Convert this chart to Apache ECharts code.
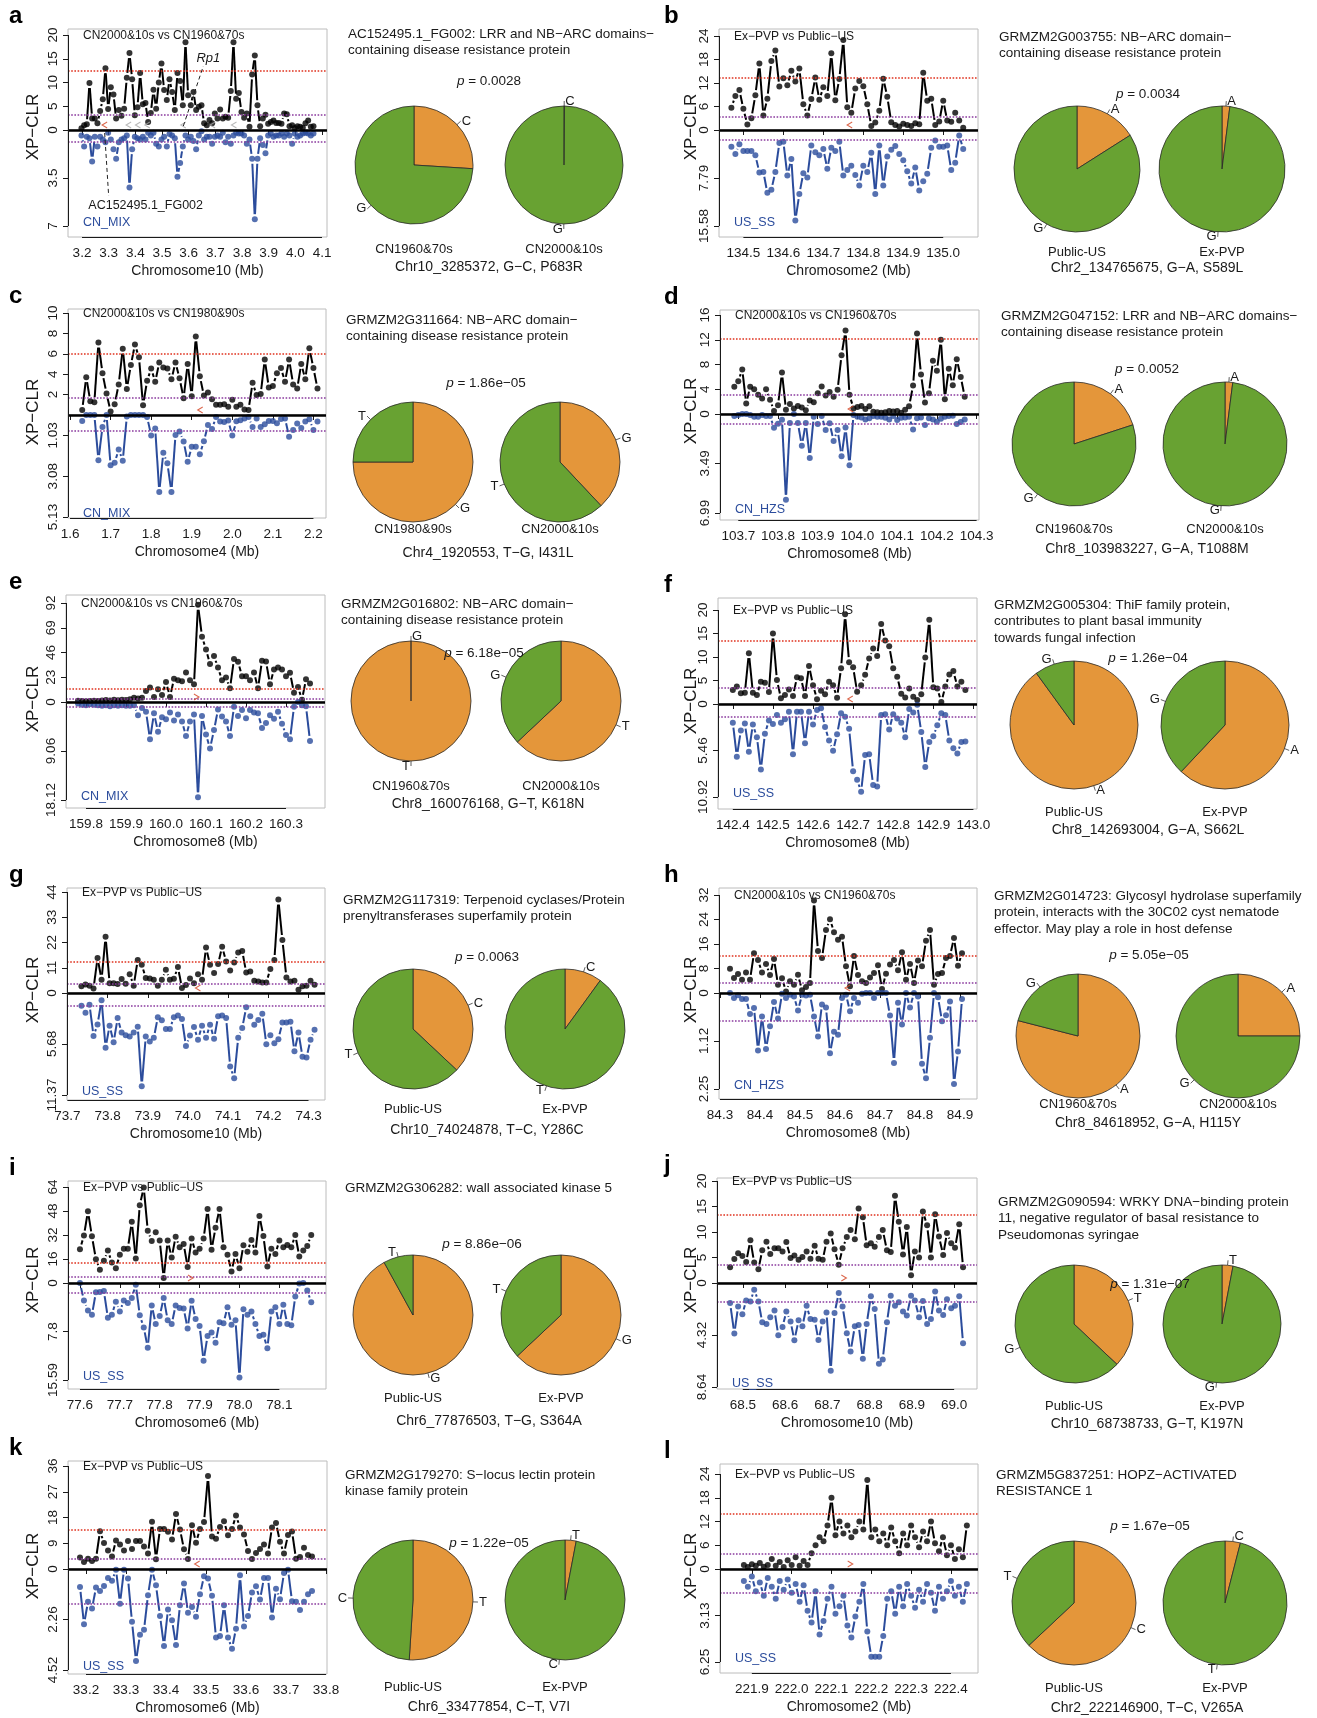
<!DOCTYPE html>
<html>
<head>
<meta charset="utf-8">
<title>XP-CLR selection signals</title>
<script src="https://cdn.jsdelivr.net/npm/echarts@6.0.0/dist/echarts.min.js"></script>
<style>
html,body{margin:0;padding:0;background:#fff;}
#chart{width:1317px;height:1718px;}
</style>
</head>
<body>
<div id="chart"></div>
<script>
// ================= DATA =================
const aX=[3.198,3.208,3.218,3.228,3.238,3.248,3.258,3.268,3.278,3.288,3.298,3.308,3.318,3.328,3.338,3.348,3.358,3.368,3.378,3.388,3.398,3.408,3.418,3.428,3.438,3.448,3.458,3.468,3.478,3.488,3.498,3.508,3.518,3.528,3.538,3.548,3.558,3.568,3.578,3.588,3.598,3.608,3.618,3.628,3.638,3.648,3.658,3.668,3.678,3.688,3.698,3.708,3.718,3.728,3.738,3.748,3.758,3.768,3.778,3.788,3.798,3.808,3.818,3.828,3.838,3.848,3.858,3.868,3.878,3.888,3.898,3.908,3.918,3.928,3.938,3.948,3.958,3.968,3.978,3.988,3.998,4.008,4.018,4.028,4.038,4.048,4.058,4.068];
const aUp=[0.35,1.0,1.2,9.9,2.4,2.4,1.4,4.0,6.5,13.0,4.4,9.0,7.5,2.4,4.2,3.0,4.5,11.0,16.2,10.7,3.1,4.8,12.0,5.4,5.7,1.7,3.6,8.5,4.5,10.0,14.0,8.4,6.3,10.7,8.0,4.2,12.0,10.3,5.2,18.5,7.3,5.2,8.0,4.2,4.9,5.2,1.4,1.0,2.1,1.4,3.5,2.4,4.3,2.4,2.8,2.6,8.2,18.5,6.6,7.8,3.8,2.6,3.5,0.7,11.7,15.7,5.2,0.8,2.4,3.2,1.3,1.7,2.0,1.5,1.5,1.3,3.5,3.3,0.8,1.0,0.4,0.8,0.7,0.5,1.4,2.0,0.7,0.8];
const aDown=[0.4,1.2,0.5,0.6,2.3,0.5,1.2,0.5,0.7,0.9,0.2,0.7,1.4,2.1,0.9,0.7,0.6,0.4,4.2,1.4,0.5,0.6,0.7,0.5,0.7,0.2,0.4,0.2,1.0,1.2,0.7,0.5,1.2,0.3,0.4,0.6,3.4,2.4,1.2,0.4,0.7,0.5,0.8,1.4,0.4,0.1,0.7,0.5,0.5,1.0,0.5,0.4,0.5,0.2,0.9,0.5,1.0,0.4,0.2,0.25,0.25,0.4,1.0,0.7,2.1,6.5,2.1,0.6,1.1,1.7,0.4,0.25,0.5,0.4,0.4,0.25,0.5,0.25,0.4,1.0,0.25,0.5,0.4,0.25,0.2,0.25,0.4,0.25];

const bX=[134.47,134.48,134.49,134.50,134.51,134.52,134.53,134.54,134.55,134.56,134.57,134.58,134.59,134.60,134.61,134.62,134.63,134.64,134.65,134.66,134.67,134.68,134.69,134.70,134.71,134.72,134.73,134.74,134.75,134.76,134.77,134.78,134.79,134.80,134.81,134.82,134.83,134.84,134.85,134.86,134.87,134.88,134.89,134.90,134.91,134.92,134.93,134.94,134.95,134.96,134.97,134.98,134.99,135.00,135.01,135.02,135.03,135.04,135.05];
const bUp=[5.7,8.7,10.2,5.4,1.4,3.0,8.9,17.0,3.7,8.0,17.6,20.3,11.1,13.2,11.4,15.1,12.4,15.7,6.6,3.7,7.9,13.4,7.7,10.9,8.7,19.6,7.6,13.0,23.0,5.8,4.4,10.6,12.5,11.2,6.6,1.0,1.9,4.9,13.1,8.5,2.0,1.3,0.9,1.6,1.3,1.0,1.7,1.5,14.6,7.5,8.0,1.3,2.2,7.5,2.4,2.1,4.4,2.4,0.6];
const bDown=[2.7,3.9,2.3,3.4,3.4,3.4,4.1,6.9,6.8,10.2,9.7,6.8,2.1,1.9,7.4,4.7,14.7,10.4,7.0,7.7,2.5,3.6,4.1,3.1,6.3,2.9,3.4,1.9,7.4,6.5,5.8,7.3,9.0,5.8,6.8,3.7,10.4,2.5,9.0,4.3,3.2,2.6,3.9,4.9,6.7,8.7,6.1,9.8,8.3,7.1,2.9,1.7,2.7,2.7,2.5,6.5,5.3,0.9,3.1];

const cX=[1.63,1.64,1.65,1.66,1.67,1.68,1.69,1.70,1.71,1.72,1.73,1.74,1.75,1.76,1.77,1.78,1.79,1.80,1.81,1.82,1.83,1.84,1.85,1.86,1.87,1.88,1.89,1.90,1.91,1.92,1.93,1.94,1.95,1.96,1.97,1.98,1.99,2.00,2.01,2.02,2.03,2.04,2.05,2.06,2.07,2.08,2.09,2.10,2.11,2.12,2.13,2.14,2.15,2.16,2.17,2.18,2.19,2.20,2.21];
const cUp=[0.5,3.7,1.35,1.25,7.1,4.1,2.1,0.35,1.05,3.0,6.5,2.55,4.9,6.9,5.65,0.95,3.35,4.55,3.25,5.15,4.65,4.55,3.5,5.15,3.6,1.65,5.0,1.85,7.7,3.8,1.9,2.2,1.55,1.0,1.0,1.05,0.8,1.5,0.8,1.0,0.55,0.5,3.15,1.95,2.05,5.45,2.7,2.85,4.1,4.6,3.25,5.45,3.0,2.6,5.0,3.5,6.55,4.6,2.6];
const cDown=[0.3,0,0,0,2.27,0.6,0,2.53,2.4,1.73,2.3,0.08,0,0,0,0,0.1,1.03,0.68,3.87,1.9,2.43,3.87,1.0,0.83,1.33,2.35,1.6,1.6,1.97,1.32,0.5,0.7,0.1,0.33,0.35,0.28,1.03,0.32,0.27,0.18,0.1,0.6,0.18,0.6,0.47,0.3,0.3,0.42,0.2,0.17,1.1,0.75,0.43,0.65,0.33,0.22,0.75,0.33];

const dX=[103.69,103.70,103.71,103.72,103.73,103.74,103.75,103.76,103.77,103.78,103.79,103.80,103.81,103.82,103.83,103.84,103.85,103.86,103.87,103.88,103.89,103.90,103.91,103.92,103.93,103.94,103.95,103.96,103.97,103.98,103.99,104.00,104.01,104.02,104.03,104.04,104.05,104.06,104.07,104.08,104.09,104.10,104.11,104.12,104.13,104.14,104.15,104.16,104.17,104.18,104.19,104.20,104.21,104.22,104.23,104.24,104.25,104.26,104.27];
const dUp=[4.4,5.3,7.2,1.7,4.4,4.0,3.1,2.5,4.0,2.3,0.5,1.4,6.7,0.7,1.6,0.9,1.3,1.05,0.6,2.2,1.9,3.35,4.45,3.0,3.55,2.8,3.9,9.5,13.5,3.1,0.9,1.15,1.3,0.8,1.25,0.35,0.3,0.2,0.3,0.5,0.4,0.5,0.2,0.7,1.25,4.6,13.0,6.4,1.85,3.35,8.6,7.0,12.0,2.4,7.3,4.65,8.85,6.0,2.8];
const dDown=[0.14,0.07,0,0,0.07,0.19,0.19,0.07,0.14,0.14,0.97,0.69,0.4,6.05,0.64,0,0.64,2.25,0.64,3.1,0.19,0.71,0.14,1.13,0.66,1.9,1.13,2.98,0.95,3.62,0.07,0.19,0.24,0.38,0.3,0.14,0.19,0.19,0.26,0.38,0.14,0.43,0.26,0.24,0.19,1.09,0.3,0.24,0.78,0.3,0.38,0.54,0.33,0.19,0.14,0.12,0.71,0.57,0.38];

const eX=[159.78,159.79,159.80,159.81,159.82,159.83,159.84,159.85,159.86,159.87,159.88,159.89,159.90,159.91,159.92,159.93,159.94,159.95,159.96,159.97,159.98,159.99,160.00,160.01,160.02,160.03,160.04,160.05,160.06,160.07,160.08,160.09,160.10,160.11,160.12,160.13,160.14,160.15,160.16,160.17,160.18,160.19,160.20,160.21,160.22,160.23,160.24,160.25,160.26,160.27,160.28,160.29,160.30,160.31,160.32,160.33,160.34,160.35,160.36];
const eUp=[1.2,1.0,0.8,1.0,1.2,0.9,1.5,1.8,1.4,2.0,1.6,2.2,1.9,2.5,4.0,3.2,4.0,10.3,13.4,4.7,11.8,6.5,18.7,4.7,21.5,20.2,19.3,27.4,20.2,16.5,90.3,60.7,48.9,35.2,42.7,32.1,20.2,22.7,12.8,39.9,37.4,24.0,24.0,20.2,27.4,12.8,38.3,37.7,16.5,30.2,32.1,30.2,24.0,27.1,8.7,14.0,2.2,21.2,17.1];
const eDown=[0.3,0.5,0.6,0.4,0.5,0.6,0.7,0.6,0.8,0.6,0.7,0.6,0.7,0.7,0.6,2.45,1.1,1.8,6.9,2.1,5.5,2.8,3.2,1.96,3.4,2.3,3.6,6.3,3.6,2.3,17.6,2.6,6.0,8.6,5.2,1.4,2.7,3.6,6.3,0.9,2.6,1.5,3.0,1.5,1.96,2.1,4.8,3.9,2.45,3.1,1.8,4.0,6.1,6.9,0.9,0,0.6,0.8,7.2];

const fX=[142.40,142.41,142.42,142.43,142.44,142.45,142.46,142.47,142.48,142.49,142.50,142.51,142.52,142.53,142.54,142.55,142.56,142.57,142.58,142.59,142.60,142.61,142.62,142.63,142.64,142.65,142.66,142.67,142.68,142.69,142.70,142.71,142.72,142.73,142.74,142.75,142.76,142.77,142.78,142.79,142.80,142.81,142.82,142.83,142.84,142.85,142.86,142.87,142.88,142.89,142.90,142.91,142.92,142.93,142.94,142.95,142.96,142.97,142.98];
const fUp=[3.0,3.7,2.3,2.4,10.8,2.4,1.9,4.75,4.5,2.55,15.0,5.1,1.2,1.9,3.1,1.7,5.7,5.5,1.7,8.1,4.0,1.0,2.8,2.05,4.75,4.0,1.35,7.6,19.1,8.9,7.8,2.6,4.0,6.2,9.7,11.8,10.2,17.0,13.5,12.3,7.6,5.8,2.2,1.4,3.3,1.55,0.85,2.05,9.9,17.9,3.55,3.3,0.4,3.7,6.3,7.0,3.7,4.75,3.0];
const fDown=[2.2,6.2,3.1,2.3,5.6,2.4,3.9,7.7,3.5,1.95,2.35,1.3,2.2,1.8,0.9,5.9,0.9,0.9,4.6,0.9,2.4,0.7,0.5,2.7,4.3,5.5,3.55,1.1,1.5,2.9,7.9,8.9,10.3,6.0,5.9,9.5,9.7,1.3,1.2,3.0,1.2,1.7,2.2,3.9,0.6,1.0,0.1,3.3,7.4,4.45,3.8,2.5,1.1,1.3,4.3,5.2,5.8,4.45,4.4];

const gX=[73.735,73.745,73.755,73.765,73.775,73.785,73.795,73.805,73.815,73.825,73.835,73.845,73.855,73.865,73.875,73.885,73.895,73.905,73.915,73.925,73.935,73.945,73.955,73.965,73.975,73.985,73.995,74.005,74.015,74.025,74.035,74.045,74.055,74.065,74.075,74.085,74.095,74.105,74.115,74.125,74.135,74.145,74.155,74.165,74.175,74.185,74.195,74.205,74.215,74.225,74.235,74.245,74.255,74.265,74.275,74.285,74.295,74.305,74.315];
const gUp=[2.9,3.75,3.2,2.0,15.2,5.8,24.5,4.3,4.3,3.9,6.1,4.0,8.2,3.2,14.4,12.3,6.5,6.3,5.8,3.2,5.8,10.1,5.8,6.2,11.3,2.2,3.5,6.3,4.3,8.2,5.8,19.8,12.3,8.7,12.6,20.2,13.7,9.8,13.3,17.6,18.3,8.9,9.4,5.3,5.05,4.6,4.6,10.5,14.4,40.7,23.1,6.8,5.0,5.3,1.4,2.9,3.2,5.3,3.6];
const gDown=[1.42,2.2,1.3,4.8,3.5,0.8,6.1,3.65,5.5,2.8,4.4,4.7,4.85,4.4,3.75,10.4,4.85,5.4,5.0,2.7,3.05,4.0,4.0,2.7,2.5,2.9,5.9,4.75,3.8,5.2,3.65,5.0,3.55,5.1,2.6,2.5,2.8,8.2,9.5,5.0,3.9,1.6,2.6,3.55,3.0,2.3,5.7,4.7,5.6,5.15,3.3,3.3,3.2,6.5,4.4,7.1,7.2,5.2,4.1];

const hX=[84.325,84.335,84.345,84.355,84.365,84.375,84.385,84.395,84.405,84.415,84.425,84.435,84.445,84.455,84.465,84.475,84.485,84.495,84.505,84.515,84.525,84.535,84.545,84.555,84.565,84.575,84.585,84.595,84.605,84.615,84.625,84.635,84.645,84.655,84.665,84.675,84.685,84.695,84.705,84.715,84.725,84.735,84.745,84.755,84.765,84.775,84.785,84.795,84.805,84.815,84.825,84.835,84.845,84.855,84.865,84.875,84.885,84.895,84.905];
const hUp=[7.9,4.9,6.2,4.3,6.7,4.3,13.0,10.8,6.7,9.5,5.9,11.1,2.7,4.8,0.5,3.8,2.7,6.0,0.9,2.0,3.25,30.2,13.7,11.4,20.6,24.1,19.8,17.4,18.4,8.7,2.2,12.1,5.9,3.8,3.25,5.1,6.5,9.1,1.3,6.3,9.3,10.8,7.4,13.3,4.3,9.5,3.25,10.6,8.7,17.1,20.6,2.7,6.2,6.5,11.4,12.1,18.0,8.9,13.0];
const hDown=[0.0,0.12,0.05,0.14,0.14,0.49,0.35,1.35,0.55,1.31,0.78,0.21,0.6,0.02,0.12,0.04,0.08,0.41,0.04,0.06,0.04,0.55,1.02,0.27,0.34,1.41,0.91,0.98,0.12,0.04,0.43,0.12,0.23,0.02,0.0,0.0,0.12,0.0,0.0,0.0,0.53,1.64,0.23,0.74,0.0,0.34,0.0,0.08,1.66,2.0,1.05,0.0,0.1,0.66,0.52,0.2,2.13,1.37,0.14];

const iX=[77.60,77.61,77.62,77.63,77.64,77.65,77.66,77.67,77.68,77.69,77.70,77.71,77.72,77.73,77.74,77.75,77.76,77.77,77.78,77.79,77.80,77.81,77.82,77.83,77.84,77.85,77.86,77.87,77.88,77.89,77.90,77.91,77.92,77.93,77.94,77.95,77.96,77.97,77.98,77.99,78.00,78.01,78.02,78.03,78.04,78.05,78.06,78.07,78.08,78.09,78.10,78.11,78.12,78.13,78.14,78.15,78.16,78.17,78.18];
const iUp=[22.5,31.6,47.9,31.1,15.9,8.8,14.8,21.6,13.7,9.9,18.8,22.9,22.9,40.8,16.3,51.9,63.6,34.9,28.0,33.8,28.3,3.3,28.3,17.0,30.9,23.8,26.0,10.6,29.6,20.3,22.9,29.6,49.4,22.1,36.9,49.4,23.8,18.8,7.7,19.4,9.9,25.2,20.8,28.7,20.3,44.6,31.3,11.0,22.9,19.4,28.3,23.8,25.4,23.8,32.0,17.7,21.6,24.7,32.0];
const iDown=[0,2.8,4.4,5.1,1.5,1.45,1.3,5.6,5.1,3.0,4.6,2.8,3.2,2.4,0.27,5.2,7.15,10.4,3.6,6.6,5.3,2.4,6.0,6.6,3.6,4.0,4.1,7.3,2.85,5.8,6.9,12.5,8.5,7.95,9.6,6.3,6.45,3.9,6.7,6.0,15.2,4.2,5.1,4.6,6.6,8.5,8.3,10.5,4.6,3.9,6.6,3.5,6.6,6.8,2.15,0.1,0,1.2,3.1];

const jX=[68.470,68.480,68.489,68.499,68.508,68.518,68.527,68.537,68.546,68.556,68.565,68.575,68.584,68.594,68.603,68.613,68.622,68.632,68.641,68.651,68.660,68.670,68.679,68.689,68.698,68.708,68.717,68.727,68.736,68.746,68.755,68.765,68.774,68.784,68.793,68.803,68.812,68.822,68.831,68.841,68.850,68.860,68.869,68.879,68.888,68.898,68.907,68.917,68.926,68.936,68.945,68.955,68.964,68.974,68.983,68.993,69.002,69.012,69.021];
const jUp=[3.1,4.7,5.85,5.3,4.1,8.4,4.0,2.7,6.4,8.1,5.7,6.8,6.8,6.2,8.05,4.9,5.4,4.55,5.1,6.2,4.75,7.3,4.75,4.55,8.1,9.7,6.6,3.6,6.8,9.0,10.4,8.6,14.6,12.9,7.4,7.8,7.1,9.0,10.4,6.4,6.1,17.1,12.0,5.6,11.0,1.5,6.2,5.0,14.0,11.3,5.0,13.5,9.1,5.5,9.8,7.8,6.9,11.5,3.1];
const jDown=[1.67,4.2,1.95,2.6,1.45,1.53,0.56,1.53,3.26,3.4,2.84,2.28,4.35,3.65,2.36,3.2,4.76,3.1,3.6,1.9,3.0,3.06,4.74,3.2,2.45,7.3,2.5,0.84,1.95,4.18,5.7,3.6,3.48,6.3,3.4,1.1,2.17,6.7,6.35,3.26,1.06,1.9,1.6,2.36,2.7,1.06,1.45,2.84,1.5,3.4,3.0,0.7,2.28,2.65,1.34,2.1,1.9,1.1,5.0];

const kX=[33.185,33.195,33.205,33.215,33.225,33.235,33.245,33.255,33.265,33.275,33.285,33.295,33.305,33.315,33.325,33.335,33.345,33.355,33.365,33.375,33.385,33.395,33.405,33.415,33.425,33.435,33.445,33.455,33.465,33.475,33.485,33.495,33.505,33.515,33.525,33.535,33.545,33.555,33.565,33.575,33.585,33.595,33.605,33.615,33.625,33.635,33.645,33.655,33.665,33.675,33.685,33.695,33.705,33.715,33.725,33.735,33.745,33.755,33.765];
const kUp=[4.0,2.45,3.6,2.8,3.6,13.2,9.1,6.5,4.4,10.0,8.6,6.5,9.8,7.0,9.8,9.8,7.9,5.4,16.5,3.4,14.0,14.0,13.0,10.3,19.2,13.8,6.9,3.5,15.3,9.2,14.0,16.4,32.5,11.4,10.6,14.7,16.7,11.8,14.0,18.7,14.5,12.1,6.3,3.5,5.6,7.0,8.6,5.4,14.5,16.1,9.5,5.4,11.9,13.1,3.6,4.2,7.4,4.9,4.4];
const kDown=[0.8,2.47,1.47,1.77,0.83,0.98,0.76,0.4,0.53,0.03,1.55,0.03,0.43,2.36,4.12,2.94,2.72,1.17,0.03,0.73,2.1,3.45,1.81,2.29,3.4,1.62,0.65,1.96,1.7,2.14,1.13,0.33,0.43,1.2,3.06,3.0,1.62,3.06,3.57,2.67,0.28,2.57,2.1,1.05,0.77,1.37,0.4,0.4,2.17,0.88,1.35,0.18,0.03,1.44,1.47,1.84,1.47,1.13,0.98];

const lX=[221.88,221.89,221.90,221.91,221.92,221.93,221.94,221.95,221.96,221.97,221.98,221.99,222.00,222.01,222.02,222.03,222.04,222.05,222.06,222.07,222.08,222.09,222.10,222.11,222.12,222.13,222.14,222.15,222.16,222.17,222.18,222.19,222.20,222.21,222.22,222.23,222.24,222.25,222.26,222.27,222.28,222.29,222.30,222.31,222.32,222.33,222.34,222.35,222.36,222.37,222.38,222.39,222.40,222.41,222.42,222.43,222.44];
const lUp=[1.0,0.5,1.2,0.8,1.5,0.6,1.0,2.5,0.8,1.8,0.5,2.2,1.0,3.0,0.8,2.0,1.0,4.0,6.0,8.0,7.0,11.0,18.0,8.5,12.0,9.0,11.0,8.0,9.5,12.0,10.0,22.5,8.0,10.0,7.0,9.0,6.0,10.5,7.0,4.0,9.0,6.0,11.0,8.0,5.5,9.5,7.0,12.0,6.5,4.5,8.0,3.5,6.0,2.5,5.0,3.0,11.0];
const lDown=[0.8,1.2,0.5,1.5,0.9,1.8,0.6,1.2,2.0,0.8,1.4,0.7,1.6,1.0,2.2,1.1,2.8,3.6,1.5,4.4,3.5,2.0,1.2,3.0,2.5,1.8,3.8,4.6,3.2,2.2,1.0,4.2,5.9,5.9,5.9,4.5,2.0,1.5,3.0,1.2,2.5,1.0,1.8,2.6,1.4,2.2,1.0,1.6,2.8,1.2,2.0,1.5,0.8,1.8,1.2,2.2,1.0];

// axis tick labels
const xTicks=[[3.2,3.3,3.4,3.5,3.6,3.7,3.8,3.9,4.0,4.1],[134.5,134.6,134.7,134.8,134.9,135.0],[1.6,1.7,1.8,1.9,2.0,2.1,2.2],[103.7,103.8,103.9,104.0,104.1,104.2,104.3],[159.8,159.9,160.0,160.1,160.2,160.3],[142.4,142.5,142.6,142.7,142.8,142.9,143.0],[73.7,73.8,73.9,74.0,74.1,74.2,74.3],[84.3,84.4,84.5,84.6,84.7,84.8,84.9],[77.6,77.7,77.8,77.9,78.0,78.1],[68.5,68.6,68.7,68.8,68.9,69.0],[33.2,33.3,33.4,33.5,33.6,33.7,33.8],[221.9,222.0,222.1,222.2,222.3,222.4]];
const upTicks=[[0,5,10,15,20],[0,6,12,18,24],[2,4,6,8,10],[0,4,8,12,16],[0,23,46,69,92],[0,5,10,15,20],[0,11,22,33,44],[0,8,16,24,32],[0,16,32,48,64],[0,5,10,15,20],[0,9,18,27,36],[0,6,12,18,24]];
const downTicks=[[3.5,7],[7.79,15.58],[1.03,3.08,5.13],[3.49,6.99],[9.06,18.12],[5.46,10.92],[5.68,11.37],[1.12,2.25],[7.8,15.59],[4.32,8.64],[2.26,4.52],[3.13,6.25]];
const thresholds=[[12.4,3.2,0.83],[13.4,3.4,1.6],[6.05,1.7,0.8],[12.1,3.1,0.69],[12.5,3.1,0.92],[13.4,3.55,1.48],[13.7,3.9,1.42],[12.1,3.25,0.65],[13.7,4.0,1.5],[13.4,3.6,1.53],[13.6,3.6,1.55],[13.9,3.9,1.6]];
const snpPos=[3.285,134.766,1.921,103.983,160.076,142.693,74.025,84.619,77.877,68.739,33.478,222.147];
const snpDir=['<','<','<','<','>','<','<','<','>','>','<','>'];
const otherGenesA=[3.375,3.41,3.445,3.58,3.69,3.77];

// labels
const panelIds=['a','b','c','d','e','f','g','h','i','j','k','l'];
const compTitles=['CN2000&10s vs CN1960&70s','Ex\u2212PVP vs Public\u2212US','CN2000&10s vs CN1980&90s','CN2000&10s vs CN1960&70s','CN2000&10s vs CN1960&70s','Ex\u2212PVP vs Public\u2212US','Ex\u2212PVP vs Public\u2212US','CN2000&10s vs CN1960&70s','Ex\u2212PVP vs Public\u2212US','Ex\u2212PVP vs Public\u2212US','Ex\u2212PVP vs Public\u2212US','Ex\u2212PVP vs Public\u2212US'];
const popNames=['CN_MIX','US_SS','CN_MIX','CN_HZS','CN_MIX','US_SS','US_SS','CN_HZS','US_SS','US_SS','US_SS','US_SS'];
const chrNames=['Chromosome10 (Mb)','Chromosome2 (Mb)','Chromosome4 (Mb)','Chromosome8 (Mb)','Chromosome8 (Mb)','Chromosome8 (Mb)','Chromosome10 (Mb)','Chromosome8 (Mb)','Chromosome6 (Mb)','Chromosome10 (Mb)','Chromosome6 (Mb)','Chromosome2 (Mb)'];
const descs=[
 ['AC152495.1_FG002: LRR and NB\u2212ARC domains\u2212','containing disease resistance protein'],
 ['GRMZM2G003755: NB\u2212ARC domain\u2212','containing disease resistance protein'],
 ['GRMZM2G311664: NB\u2212ARC domain\u2212','containing disease resistance protein'],
 ['GRMZM2G047152: LRR and NB\u2212ARC domains\u2212','containing disease resistance protein'],
 ['GRMZM2G016802: NB\u2212ARC domain\u2212','containing disease resistance protein'],
 ['GRMZM2G005304: ThiF family protein,','contributes to plant basal immunity','towards fungal infection'],
 ['GRMZM2G117319: Terpenoid cyclases/Protein','prenyltransferases superfamily protein'],
 ['GRMZM2G014723: Glycosyl hydrolase superfamily','protein, interacts with the 30C02 cyst nematode','effector. May play a role in host defense'],
 ['GRMZM2G306282: wall associated kinase 5'],
 ['GRMZM2G090594: WRKY DNA\u2212binding protein','11, negative regulator of basal resistance to','Pseudomonas syringae'],
 ['GRMZM2G179270: S\u2212locus lectin protein','kinase family protein'],
 ['GRMZM5G837251: HOPZ\u2212ACTIVATED','RESISTANCE 1']];
const pValues=['0.0028','0.0034','1.86e\u221205','0.0052','6.18e\u221205','1.26e\u221204','0.0063','5.05e\u221205','8.86e\u221206','1.31e\u221207','1.22e\u221205','1.67e\u221205'];
const snpCaptions=['Chr10_3285372, G\u2212C, P683R','Chr2_134765675, G\u2212A, S589L','Chr4_1920553, T\u2212G, I431L','Chr8_103983227, G\u2212A, T1088M','Chr8_160076168, G\u2212T, K618N','Chr8_142693004, G\u2212A, S662L','Chr10_74024878, T\u2212C, Y286C','Chr8_84618952, G\u2212A, H115Y','Chr6_77876503, T\u2212G, S364A','Chr10_68738733, G\u2212T, K197N','Chr6_33477854, C\u2212T, V7I','Chr2_222146900, T\u2212C, V265A'];
const groupNames=[['CN1960&70s','CN2000&10s'],['Public-US','Ex-PVP'],['CN1980&90s','CN2000&10s'],['CN1960&70s','CN2000&10s'],['CN1960&70s','CN2000&10s'],['Public-US','Ex-PVP'],['Public-US','Ex-PVP'],['CN1960&70s','CN2000&10s'],['Public-US','Ex-PVP'],['Public-US','Ex-PVP'],['Public-US','Ex-PVP'],['Public-US','Ex-PVP']];
// alleles: [orange allele, green allele]; pie shares (%): [[left orange, left green],[right orange, right green]]
const alleles=[['C','G'],['A','G'],['G','T'],['A','G'],['T','G'],['A','G'],['C','T'],['A','G'],['G','T'],['T','G'],['T','C'],['C','T']];
const pieShares=[[[26,74],[0.1,99.9]],[[16,84],[2,98]],[[75,25],[38,62]],[[20,80],[2,98]],[[100,0],[63,37]],[[90,10],[62,38]],[[37,63],[10,90]],[[79,21],[25,75]],[[92,8],[63,37]],[[37,63],[3,97]],[[51,49],[3,97]],[[63,37],[4,96]]];

const panelData=[[aX,aUp,aDown],[bX,bUp,bDown],[cX,cUp,cDown],[dX,dUp,dDown],[eX,eUp,eDown],[fX,fUp,fDown],[gX,gUp,gDown],[hX,hUp,hDown],[iX,iUp,iDown],[jX,jUp,jDown],[kX,kUp,kDown],[lX,lUp,lDown]];

// ================= LAYOUT (pixels) =================
const lay=[
 {left:68,right:327,top:29,zero:130,bottom:237,du:95,dl:96,xmin:3.1475,xmax:4.1187},
 {left:719,right:978,top:29,zero:130,bottom:237,du:94,dl:96,xmin:134.439,xmax:135.087},
 {left:68,right:326,top:309,zero:415,bottom:518,du:102,dl:102,xmin:1.595,xmax:2.231},
 {left:720,right:979,top:310,zero:414,bottom:520,du:99,dl:99,xmin:103.654,xmax:104.306},
 {left:66,right:325,top:595,zero:702,bottom:808,du:99,dl:98,xmin:159.75,xmax:160.3975},
 {left:718,right:977,top:598,zero:704,bottom:809,du:94,dl:93,xmin:142.363,xmax:143.009},
 {left:67,right:325,top:888,zero:993,bottom:1100,du:101,dl:102,xmin:73.699,xmax:74.341},
 {left:719,right:977,top:888,zero:993,bottom:1099,du:98,dl:96,xmin:84.2975,xmax:84.9425},
 {left:68,right:326,top:1181,zero:1283,bottom:1389,du:96,dl:97,xmin:77.570,xmax:78.217},
 {left:717,right:977,top:1178,zero:1283,bottom:1389,du:102,dl:104,xmin:68.439,xmax:69.054},
 {left:68,right:327,top:1461,zero:1569,bottom:1674,du:103,dl:101,xmin:33.155,xmax:33.8025},
 {left:720,right:978,top:1464,zero:1569,bottom:1673,du:95,dl:93,xmin:221.82,xmax:222.468}
];
const txt=[
 {dx:348,dy:34,px:489,py:81,pie:[414,564,165,59],ny:249,cx:489,cy:267},
 {dx:999,dy:37,px:1148,py:94,pie:[1077,1222,169,63],ny:252,cx:1147,cy:268},
 {dx:346,dy:320,px:486,py:383,pie:[413,560,462,60],ny:529,cx:488,cy:553},
 {dx:1001,dy:316,px:1147,py:369,pie:[1074,1225,444,62],ny:529,cx:1147,cy:549},
 {dx:341,dy:604,px:484,py:653,pie:[411,561,701,60],ny:786,cx:488,cy:804},
 {dx:994,dy:605,px:1148,py:658,pie:[1074,1225,725,64],ny:812,cx:1148,cy:830},
 {dx:343,dy:900,px:487,py:957,pie:[413,565,1029,60],ny:1109,cx:487,cy:1130},
 {dx:994,dy:896,px:1149,py:955,pie:[1078,1238,1036,62],ny:1104,cx:1148,cy:1123},
 {dx:345,dy:1188,px:482,py:1244,pie:[413,561,1315,60],ny:1398,cx:489,cy:1421},
 {dx:998,dy:1202,px:1150,py:1284,pie:[1074,1222,1324,59],ny:1406,cx:1147,cy:1424},
 {dx:345,dy:1475,px:489,py:1543,pie:[413,565,1600,60],ny:1687,cx:489,cy:1707},
 {dx:996,dy:1475,px:1150,py:1526,pie:[1074,1225,1603,62],ny:1688,cx:1147,cy:1708}
];

// ================= BUILD =================
const FONT='"Liberation Sans", Arial, Helvetica, sans-serif';
const INK='#1a1a1a', BLUE='#2b4c9c', RED='#e0321e', PURPLE='#8a3a9e';
const ORANGE='#e4963a', GREEN='#68a232';
const GAP=5;

const chart=echarts.init(document.getElementById('chart'),null,{renderer:'canvas',width:1317,height:1718});
const grids=[],xAxes=[],yAxes=[],series=[],graphics=[];

function segSeries(xs,ys,gi,color){
  const data=[];
  for(let k=0;k<xs.length-1;k++) data.push([xs[k],ys[k],xs[k+1],ys[k+1]]);
  return {type:'custom',xAxisIndex:gi,yAxisIndex:gi,data,silent:true,z:2,animation:false,
    dimensions:['x0','y0','x1','y1'],encode:{x:[0,2],y:[1,3]},
    renderItem(params,api){
      const p0=api.coord([api.value(0),api.value(1)]);
      const p1=api.coord([api.value(2),api.value(3)]);
      const dx=p1[0]-p0[0],dy=p1[1]-p0[1],len=Math.hypot(dx,dy);
      if(len<=2*GAP+0.5) return null;
      const ux=dx/len,uy=dy/len;
      return {type:'line',shape:{x1:p0[0]+ux*GAP,y1:p0[1]+uy*GAP,x2:p1[0]-ux*GAP,y2:p1[1]-uy*GAP},
        style:{stroke:color,lineWidth:2}};
    }};
}
function txtEl(x,y,text,o){
  o=o||{};
  return {type:'text',x,y,silent:true,z:20,rotation:o.rot||0,
    style:{text,fill:o.color||INK,fontSize:o.size||13,fontFamily:FONT,fontWeight:o.weight||'normal',
      fontStyle:o.style||'normal',align:o.align||'left',verticalAlign:'middle',rich:o.rich}};
}

panelData.forEach((pd,p)=>{
  const [xs,ups,downs]=pd;
  const G=lay[p], T=txt[p];
  const w=G.right-G.left;
  const gu=2*p, gl=2*p+1;
  const U=upTicks[p][upTicks[p].length-1], L=downTicks[p][downTicks[p].length-1];
  grids.push({left:G.left,top:G.top,width:w,height:G.zero-G.top,show:true,borderColor:'#bcbcbc',borderWidth:1});
  grids.push({left:G.left,top:G.zero,width:w,height:G.bottom-G.zero,show:true,borderColor:'#bcbcbc',borderWidth:1});
  xAxes.push({type:'value',gridIndex:gu,min:G.xmin,max:G.xmax,show:false});
  xAxes.push({type:'value',gridIndex:gl,min:G.xmin,max:G.xmax,position:'bottom',
    axisLine:{show:false},splitLine:{show:false},
    axisTick:{show:true,customValues:xTicks[p],length:5,lineStyle:{color:INK,width:1}},
    axisLabel:{customValues:xTicks[p],formatter:v=>Number(v).toFixed(1),fontSize:13.5,color:INK,fontFamily:FONT,margin:9},
    name:chrNames[p],nameLocation:'middle',nameGap:27,nameTextStyle:{fontSize:14,color:INK,fontFamily:FONT}});
  yAxes.push({type:'value',gridIndex:gu,min:0,max:U*(G.zero-G.top)/G.du,
    axisLine:{show:false},splitLine:{show:false},
    axisTick:{show:true,customValues:upTicks[p],length:5,lineStyle:{color:INK,width:1}},
    axisLabel:{customValues:upTicks[p],rotate:90,formatter:v=>String(v),fontSize:13.5,color:INK,fontFamily:FONT,margin:8}});
  yAxes.push({type:'value',gridIndex:gl,min:0,max:L*(G.bottom-G.zero)/G.dl,inverse:true,
    axisLine:{show:false},splitLine:{show:false},
    axisTick:{show:true,customValues:downTicks[p],length:5,lineStyle:{color:INK,width:1}},
    axisLabel:{customValues:downTicks[p],rotate:90,formatter:v=>String(Math.round(v*100)/100),fontSize:13.5,color:INK,fontFamily:FONT,margin:8}});

  const th=thresholds[p];
  series.push(segSeries(xs,ups,gu,'#000'));
  series.push(segSeries(xs,downs,gl,BLUE));
  series.push({type:'scatter',xAxisIndex:gu,yAxisIndex:gu,symbolSize:6,z:3,silent:true,animation:false,
    itemStyle:{color:'#000'},data:xs.map((x,k)=>[x,ups[k]]),
    markLine:{silent:true,symbol:['none','none'],label:{show:false},animation:false,z:4,
      data:[{yAxis:th[0],lineStyle:{color:RED,type:'dotted',width:1.6}},
            {yAxis:th[1],lineStyle:{color:PURPLE,type:'dotted',width:1.6}},
            {yAxis:0,lineStyle:{color:'#000',type:'solid',width:2.6}}]}});
  series.push({type:'scatter',xAxisIndex:gl,yAxisIndex:gl,symbolSize:6,z:3,silent:true,animation:false,
    itemStyle:{color:BLUE},data:xs.map((x,k)=>[x,downs[k]]),
    markLine:{silent:true,symbol:['none','none'],label:{show:false},animation:false,
      data:[{yAxis:th[2],lineStyle:{color:PURPLE,type:'dotted',width:1.6}}]}});
  const chev=snpDir[p]==='<'?'path://M8,0 L0,4 L8,8':'path://M0,0 L8,4 L0,8';
  const mk=[{value:[snpPos[p],0],itemStyle:{borderColor:'#d2401e'}}];
  if(p===0) otherGenesA.forEach(v=>mk.push({value:[v,0],itemStyle:{borderColor:'#a8a8a8'}}));
  series.push({type:'scatter',xAxisIndex:gu,yAxisIndex:gu,symbol:chev,symbolSize:[5,6],symbolOffset:[0,-5],
    z:5,silent:true,animation:false,itemStyle:{color:'none',borderWidth:1.1},data:mk});
  [0,1].forEach(s=>{
    const sh=pieShares[p][s];
    series.push({type:'pie',center:[T.pie[s],T.pie[2]],radius:T.pie[3],startAngle:90,clockwise:true,
      avoidLabelOverlap:false,animation:false,silent:true,minShowLabelAngle:0,
      label:{show:true,position:'outside',formatter:'{b}',fontSize:13,color:INK,fontFamily:FONT,distanceToLabelLine:1},
      labelLine:{show:true,length:5,length2:0,lineStyle:{color:'#333',width:0.8}},
      itemStyle:{borderColor:'#2a2a2a',borderWidth:0.8},
      data:[{name:alleles[p][0],value:sh[0],itemStyle:{color:ORANGE}},
            {name:alleles[p][1],value:sh[1],itemStyle:{color:GREEN}}]});
    graphics.push(txtEl(T.pie[s],T.ny,groupNames[p][s],{align:'center',size:13}));
  });
  const colLeft=G.left<400;
  graphics.push(txtEl(colLeft?9:664,G.top-13,panelIds[p],{size:24,weight:'bold',color:'#000'}));
  graphics.push(txtEl(colLeft?33:691,G.zero-3,'XP\u2212CLR',{align:'center',size:17,rot:Math.PI/2}));
  graphics.push(txtEl(G.left+15,G.zero-G.du+1,compTitles[p],{size:12}));
  graphics.push(txtEl(G.left+15,G.zero+G.dl-3,popNames[p],{size:12.5,color:BLUE}));
  descs[p].forEach((line,k)=>graphics.push(txtEl(T.dx,T.dy+k*16.5,line,{size:13.5})));
  graphics.push(txtEl(T.px,T.py,'{i|p} = '+pValues[p],{align:'center',size:13.5,
    rich:{i:{fontStyle:'italic',fontSize:13.5,fontFamily:FONT,fill:INK}}}));
  graphics.push(txtEl(T.cx,T.cy,snpCaptions[p],{align:'center',size:14}));
});

const option={animation:false,backgroundColor:'#fff',textStyle:{fontFamily:FONT},
  grid:grids,xAxis:xAxes,yAxis:yAxes,series,graphic:graphics};
chart.setOption(option);

// axis lines spanning first..last tick (R style) and panel-a annotations, anchored via the axes
const extra=[];
panelData.forEach((pd,p)=>{
  const xt=xTicks[p], ut=upTicks[p], dt=downTicks[p];
  const a0=chart.convertToPixel({xAxisIndex:2*p+1,yAxisIndex:2*p+1},[xt[0],0]);
  const a1=chart.convertToPixel({xAxisIndex:2*p+1,yAxisIndex:2*p+1},[xt[xt.length-1],0]);
  const by=lay[p].bottom+0.5;
  extra.push({type:'line',silent:true,z:15,shape:{x1:a0[0],y1:by,x2:a1[0],y2:by},style:{stroke:INK,lineWidth:1}});
  const t0=chart.convertToPixel({xAxisIndex:2*p,yAxisIndex:2*p},[lay[p].xmin,ut[ut.length-1]]);
  const t1=chart.convertToPixel({xAxisIndex:2*p+1,yAxisIndex:2*p+1},[lay[p].xmin,dt[dt.length-1]]);
  const lx=lay[p].left+0.5;
  extra.push({type:'line',silent:true,z:15,shape:{x1:lx,y1:t0[1],x2:lx,y2:t1[1]},style:{stroke:INK,lineWidth:1}});
});
const pRp=chart.convertToPixel({xAxisIndex:0,yAxisIndex:0},[3.58,0]);
const pAC=chart.convertToPixel({xAxisIndex:0,yAxisIndex:0},[snpPos[0],0]);
extra.push(
  {type:'line',silent:true,z:19,shape:{x1:pRp[0],y1:pRp[1]-4,x2:pRp[0]+20,y2:pRp[1]-64},style:{stroke:'#222',lineWidth:1,lineDash:[4,3]}},
  txtEl(pRp[0]+25,pRp[1]-72,'Rp1',{align:'center',size:13,style:'italic'}),
  {type:'line',silent:true,z:19,shape:{x1:pAC[0],y1:pAC[1]+3,x2:pAC[0]+4,y2:pAC[1]+66},style:{stroke:'#222',lineWidth:1,lineDash:[4,3]}},
  txtEl(pAC[0]+41,pAC[1]+76,'AC152495.1_FG002',{align:'center',size:12.5})
);
chart.setOption({graphic:graphics.concat(extra)});
</script>
</body>
</html>
